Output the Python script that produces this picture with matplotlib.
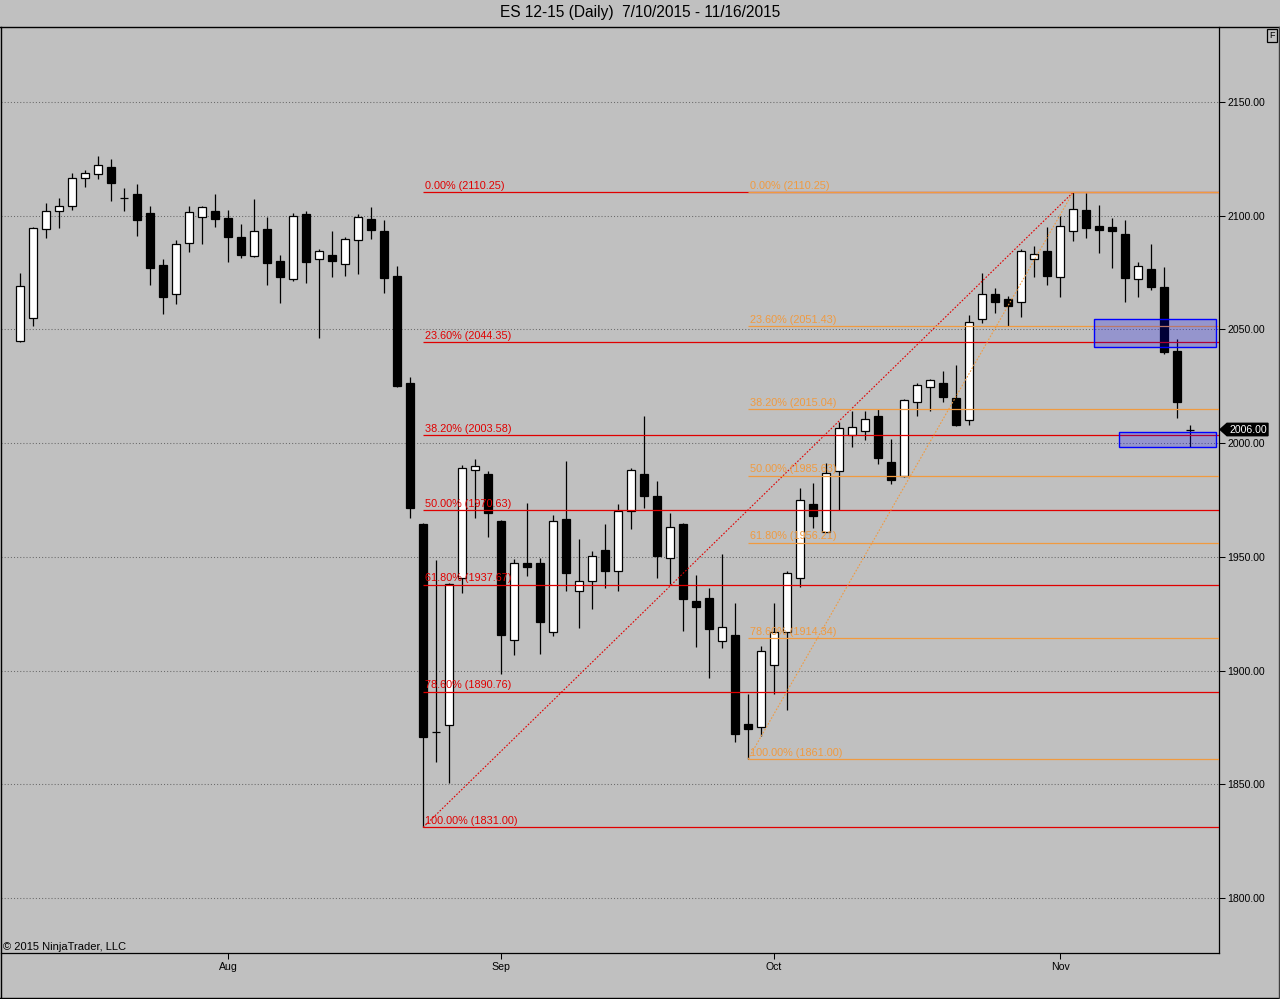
import matplotlib
matplotlib.use('Agg')
import matplotlib.pyplot as plt
import matplotlib.transforms as mtransforms
from matplotlib.patches import Rectangle, Polygon
from matplotlib.lines import Line2D
import numpy as np

#daily bars ES 12-15, 7/10/2015 - 11/16/2015
opens = [2044.9, 2055.0, 2094.0, 2102.3, 2104.1, 2116.8, 2118.2, 2121.4, 2107.9, 2109.5,
         2101.1, 2078.3, 2065.4, 2087.8, 2099.3, 2102.0, 2098.9, 2090.6, 2082.4, 2094.1,
         2080.0, 2072.0, 2100.7, 2080.8, 2082.7, 2079.0, 2089.4, 2098.5, 2093.2, 2073.3,
         2026.4, 1964.4, 1872.8, 1876.0, 1940.9, 1988.0, 1986.4, 1965.7, 1913.4, 1947.5,
         1947.1, 1916.8, 1966.6, 1934.8, 1939.2, 1952.9, 1943.6, 1970.0, 1986.4, 1976.7,
         1949.3, 1964.4, 1930.5, 1931.7, 1913.2, 1915.6, 1876.4, 1875.0, 1902.4, 1916.9,
         1940.8, 1973.2, 1961.0, 1987.6, 2003.8, 2005.3, 2011.9, 1991.5, 1985.6, 2018.3,
         2024.5, 2026.4, 2019.7, 2010.4, 2054.4, 2065.8, 2063.6, 2061.9, 2080.8, 2084.7,
         2072.9, 2093.1, 2102.5, 2095.4, 2095.0, 2091.9, 2072.0, 2076.5, 2068.6, 2040.5,
         2006.0]
highs = [2074.8, 2095.0, 2105.7, 2107.6, 2118.9, 2120.1, 2126.3, 2124.9, 2112.0, 2114.0,
         2104.2, 2081.0, 2089.3, 2104.4, 2104.2, 2109.5, 2102.5, 2096.3, 2107.3, 2099.4,
         2082.7, 2101.0, 2101.9, 2085.3, 2093.4, 2090.5, 2100.8, 2103.9, 2098.1, 2077.8,
         2028.9, 1965.0, 1948.5, 1938.5, 1990.3, 1993.0, 1987.8, 1966.2, 1948.9, 1973.5,
         1949.7, 1968.6, 1992.1, 1957.8, 1952.5, 1964.5, 1973.2, 1989.0, 2012.0, 1983.2,
         1969.2, 1965.1, 1942.1, 1936.1, 1951.1, 1929.6, 1889.6, 1910.7, 1929.6, 1943.7,
         1980.2, 1982.4, 1991.1, 2009.2, 2014.1, 2014.1, 2014.8, 2001.8, 2019.3, 2026.5,
         2028.0, 2031.7, 2034.4, 2056.3, 2074.8, 2068.2, 2064.6, 2085.2, 2086.8, 2094.9,
         2100.1, 2110.25, 2109.8, 2104.8, 2098.9, 2098.1, 2079.5, 2087.6, 2077.5, 2046.0,
         2008.0]
lows = [2044.4, 2051.5, 2090.0, 2094.7, 2102.6, 2112.7, 2116.2, 2106.6, 2102.2, 2091.0,
        2069.5, 2056.6, 2061.4, 2084.1, 2087.5, 2095.1, 2079.6, 2081.5, 2081.8, 2069.5,
        2061.7, 2071.5, 2070.5, 2046.3, 2073.1, 2073.4, 2074.3, 2089.7, 2066.0, 2024.5,
        1967.3, 1831.0, 1859.9, 1850.4, 1934.2, 1967.2, 1958.8, 1898.7, 1906.8, 1941.6,
        1907.2, 1915.3, 1935.0, 1918.8, 1927.0, 1936.4, 1935.0, 1962.3, 1971.5, 1940.8,
        1937.9, 1917.5, 1910.4, 1896.8, 1910.0, 1868.6, 1861.0, 1871.3, 1889.9, 1882.6,
        1936.8, 1962.5, 1960.8, 1970.5, 1998.4, 2001.6, 1990.9, 1982.1, 1984.9, 2012.0,
        2014.2, 2018.0, 2007.5, 2008.0, 2052.9, 2057.3, 2051.6, 2055.3, 2073.1, 2069.5,
        2064.1, 2089.0, 2090.0, 2083.7, 2077.1, 2061.9, 2064.3, 2067.3, 2039.4, 2011.1,
        1998.5]
closes = [2069.0, 2094.5, 2102.0, 2104.1, 2116.8, 2118.6, 2122.3, 2114.5, 2107.9, 2098.2,
          2077.1, 2064.3, 2087.4, 2101.6, 2103.8, 2098.4, 2090.7, 2082.8, 2093.5, 2079.3,
          2073.0, 2099.8, 2079.7, 2084.4, 2080.2, 2089.6, 2099.3, 2093.7, 2072.7, 2025.2,
          1971.3, 1870.8, 1872.8, 1937.9, 1989.1, 1989.8, 1969.1, 1915.7, 1947.1, 1945.6,
          1921.4, 1965.6, 1942.7, 1939.6, 1950.2, 1943.8, 1970.1, 1988.1, 1976.8, 1950.4,
          1963.1, 1931.5, 1928.0, 1918.3, 1919.0, 1871.9, 1874.4, 1908.8, 1916.8, 1942.7,
          1974.8, 1968.0, 1986.9, 2006.5, 2007.3, 2010.7, 1993.5, 1984.0, 2018.8, 2025.4,
          2027.6, 2020.2, 2008.0, 2053.1, 2065.8, 2062.1, 2060.4, 2084.3, 2083.0, 2073.6,
          2095.3, 2102.8, 2094.7, 2093.8, 2093.4, 2072.7, 2078.1, 2068.7, 2040.1, 2018.2,
          2006.0]

month_pos = [16, 37, 58, 80]
month_labels = ['Aug', 'Sep', 'Oct', 'Nov']
price_ticks = [1800, 1850, 1900, 1950, 2000, 2050, 2100, 2150]

#fibonacci retracements
fib_pcts = [0.0, 0.236, 0.382, 0.5, 0.618, 0.786, 1.0]
fib_high, fib_high_bar = 2110.25, 81
red_low, red_low_bar = 1831.00, 31
orange_low, orange_low_bar = 1861.00, 56

#blue zones (bar from, bar to, price low, price high)
zone_x0 = [82.6, 84.5]
zone_x1 = [92.0, 92.0]
zone_lo = [2042.1, 1998.1]
zone_hi = [2054.4, 2005.1]

last_price = 2006.00

W, H = 1280, 999
bg = '#c0c0c0'
red = '#e00000'
orange = '#f09a40'
plt.rcParams['font.family'] = ['Liberation Sans', 'DejaVu Sans']

fig = plt.figure(figsize=(W / 100, H / 100), dpi=100, facecolor=bg)
ax = fig.add_axes([1 / W, (H - 953) / H, (1219 - 1) / W, (953 - 27) / H], facecolor=bg)
x_left, x_right = -1.46, 92.23
ax.set_xlim(x_left, x_right)
ax.set_ylim(1775.8, 2183.0)

#horizontal dotted grid
ax.hlines(price_ticks, x_left, x_right, colors='#6a6a6a', linestyles=(0, (1, 2)), lw=0.75, zorder=0)

#candles
o = np.array(opens)
c = np.array(closes)
x = np.arange(len(o))
up = c >= o
ax.vlines(x, lows, highs, colors='black', lw=0.9, zorder=2)
ax.bar(x, np.abs(c - o), bottom=np.minimum(o, c), width=0.67,
       color=np.where(up, 'white', 'black'), edgecolor='black', linewidth=0.9, zorder=3)

#fib levels
def fib_set(low, low_bar, color, z):
    levels = [fib_high - p * (fib_high - low) for p in fib_pcts]
    ax.hlines(levels, low_bar, x_right, colors=color, lw=0.9, zorder=z)
    for p, lv in zip(fib_pcts, levels):
        ax.annotate('%.2f%% (%.2f)' % (p * 100, lv + 1e-6), (low_bar, lv), xytext=(1.5, 1),
                    textcoords='offset points', va='bottom', ha='left',
                    fontsize=7.8, color=color, zorder=z)
    ax.plot([low_bar, fib_high_bar], [low, fib_high], color=color, lw=0.8,
            ls=(0, (1.5, 1.5)), zorder=z)

fib_set(red_low, red_low_bar, red, 4)
fib_set(orange_low, orange_low_bar, orange, 5)

#zones
for x0, x1, lo, hi in zip(zone_x0, zone_x1, zone_lo, zone_hi):
    ax.add_patch(Rectangle((x0, lo), x1 - x0, hi - lo, facecolor=(0, 0, 1, 0.22),
                           edgecolor='#0000ff', lw=1, zorder=6))

#axes
ax.yaxis.tick_right()
ax.set_yticks(price_ticks)
ax.set_yticklabels(['%.2f' % t for t in price_ticks])
ax.set_xticks(month_pos)
ax.set_xticklabels(month_labels)
ax.tick_params(axis='y', direction='out', length=4.3, width=0.75, pad=1.5, labelsize=7.6)
ax.tick_params(axis='x', direction='out', length=4.3, width=0.75, pad=2.5, labelsize=7.6)
ax.spines['top'].set_visible(False)
ax.spines['left'].set_visible(False)
ax.spines['right'].set_linewidth(0.9)
ax.spines['bottom'].set_linewidth(0.9)

#last price marker
tr = mtransforms.blended_transform_factory(fig.transFigure, ax.transData)
hh = 2.73
ax.add_patch(Polygon([(1220 / W, last_price), (1227 / W, last_price + hh), (1268 / W, last_price + hh),
                      (1268 / W, last_price - hh), (1227 / W, last_price - hh)],
                     closed=True, facecolor='black', edgecolor='black', transform=tr,
                     clip_on=False, zorder=10))
ax.text(1229 / W, last_price, '%.2f' % last_price, transform=tr, color='white',
        fontsize=7.6, va='center', ha='left', zorder=11, clip_on=False)

#frame and texts
fig.add_artist(Line2D([0, 1], [(H - 27) / H] * 2, color='black', lw=1))
fig.add_artist(Line2D([0.5 / W] * 2, [(H - 997.5) / H, (H - 27) / H], color='black', lw=1))
fig.add_artist(Line2D([0, 1], [(H - 997.5) / H] * 2, color='black', lw=1))
fig.add_artist(Line2D([1278.5 / W] * 2, [(H - 997.5) / H, (H - 27) / H], color='#404040', lw=1))
fig.text(640 / W, (H - 13) / H, 'ES 12-15 (Daily)  7/10/2015 - 11/16/2015', ha='center',
         va='center', fontsize=11.2)
fig.text(3 / W, (H - 952) / H, '\u00a9 2015 NinjaTrader, LLC', ha='left', va='bottom', fontsize=8)
fig.text(1272 / W, (H - 35.5) / H, 'F', ha='center', va='center', fontsize=6.5,
         bbox=dict(boxstyle='square,pad=0.2', fc='none', ec='black', lw=0.9))

fig.savefig('out.png', dpi=100, facecolor=bg)
